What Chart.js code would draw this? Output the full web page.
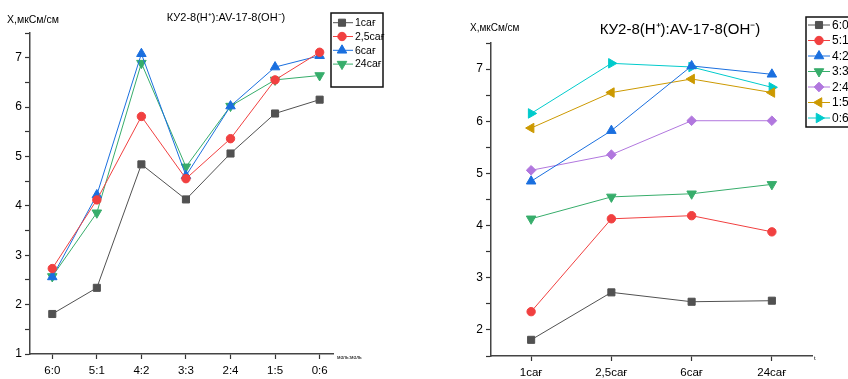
<!DOCTYPE html>
<html>
<head>
<meta charset="utf-8">
<script src="https://cdn.jsdelivr.net/npm/chart.js@4"></script>
<style>
  body { margin: 0; background: #fff; }
  #wrap { position: relative; width: 848px; height: 379px; overflow: hidden; font-family: 'Liberation Sans', Arial, sans-serif; }
  canvas { position: absolute; top: 0; }
  .txt { position: absolute; white-space: nowrap; color: #000; line-height: 1; }
</style>
</head>
<body>
<div id="wrap">
  <canvas id="leftChart" width="424" height="379" style="left:0"></canvas>
  <canvas id="rightChart" width="424" height="379" style="left:424px"></canvas>
  <div class="txt" style="left:226px;top:12px;font-size:11px;transform:translateX(-50%)">КУ2-8(H⁺):AV-17-8(OH⁻)</div>
  <div class="txt" style="left:7px;top:14px;font-size:10.5px">X,мкСм/см</div>
  <div class="txt" style="left:337px;top:355px;font-size:5px">моль:моль</div>
  <div class="txt" style="left:680px;top:21px;font-size:15px;transform:translateX(-50%)">КУ2-8(H⁺):AV-17-8(OH⁻)</div>
  <div class="txt" style="left:470px;top:23px;font-size:10px">X,мкСм/см</div>
  <div class="txt" style="left:814px;top:355px;font-size:6px">t</div>
</div>
<script>
const ratioLabels = ['6:0', '5:1', '4:2', '3:3', '2:4', '1:5', '0:6'];
const timeLabels = ['1сағ', '2,5сағ', '6сағ', '24сағ'];

// left chart: conductivity vs ratio, one line per time
const left1h = [1.81, 2.34, 4.84, 4.13, 5.06, 5.87, 6.15];
const left25h = [2.73, 4.12, 5.81, 4.55, 5.36, 6.55, 7.11];
const left6h = [2.56, 4.22, 7.08, 4.61, 6.02, 6.81, 7.04];
const left24h = [2.57, 3.86, 6.89, 4.79, 6.02, 6.55, 6.64];

// right chart: conductivity vs time, one line per ratio
const r60 = [1.81, 2.72, 2.54, 2.56];
const r51 = [2.35, 4.13, 4.19, 3.88];
const r42 = [4.85, 5.82, 7.06, 6.90];
const r33 = [4.13, 4.55, 4.61, 4.79];
const r24 = [5.06, 5.36, 6.01, 6.01];
const r15 = [5.87, 6.55, 6.81, 6.55];
const r06 = [6.15, 7.11, 7.04, 6.65];

const colors = ['#515151', '#F14040', '#1A6FDF', '#37AD6B', '#B177DE', '#CC9900', '#00CBCC'];
const styles = [
  { pointStyle: 'rect', pointRotation: 0, pointRadius: 5 },
  { pointStyle: 'circle', pointRotation: 0, pointRadius: 4.2 },
  { pointStyle: 'triangle', pointRotation: 0, pointRadius: 5.5 },
  { pointStyle: 'triangle', pointRotation: 180, pointRadius: 5.5 },
  { pointStyle: 'rectRot', pointRotation: 0, pointRadius: 4.8 },
  { pointStyle: 'triangle', pointRotation: 270, pointRadius: 5.5 },
  { pointStyle: 'triangle', pointRotation: 90, pointRadius: 5.5 }
];

function makeSet(label, data, i) {
  return Object.assign({
    label: label,
    data: data,
    borderColor: colors[i],
    backgroundColor: colors[i],
    pointBackgroundColor: colors[i],
    pointBorderColor: colors[i],
    pointBorderWidth: 1,
    borderWidth: 1,
    tension: 0
  }, styles[i]);
}

const boxLegend = {
  id: 'boxLegend',
  afterDraw(chart, args, o) {
    const ctx = chart.ctx;
    ctx.save();
    ctx.lineWidth = 1.5;
    ctx.strokeStyle = '#111';
    ctx.strokeRect(o.x, o.y, o.w, o.h);
    chart.data.datasets.forEach((ds, i) => {
      const cy = o.y + o.first + i * o.step;
      ctx.strokeStyle = ds.borderColor;
      ctx.lineWidth = 1;
      ctx.beginPath();
      ctx.moveTo(o.x + 2, cy);
      ctx.lineTo(o.x + o.lineW, cy);
      ctx.stroke();
      ctx.fillStyle = ds.pointBackgroundColor;
      ctx.strokeStyle = ds.pointBorderColor;
      Chart.helpers.drawPoint(ctx, {
        pointStyle: ds.pointStyle, rotation: ds.pointRotation, radius: ds.pointRadius, borderWidth: 1
      }, o.x + o.markX, cy);
      ctx.fillStyle = '#000';
      ctx.font = o.font + "px 'Liberation Sans', Arial, sans-serif";
      ctx.textBaseline = 'middle';
      ctx.fillText(ds.label, o.x + o.textX, cy + 0.5);
    });
    ctx.restore();
  }
};

const xFont = { family: "'Liberation Sans', Arial, sans-serif", size: 11.5 };
const yFont = { family: "'Liberation Sans', Arial, sans-serif", size: 12 };
const axisBorder = { display: true, color: '#444', width: 1.5 };
const gridOpts = { display: true, drawOnChartArea: false, drawTicks: true, tickLength: 5, color: '#333', tickColor: '#333', tickWidth: 1.2 };

new Chart(document.getElementById('leftChart'), {
  type: 'line',
  data: {
    datasets: [
      makeSet('1сағ', left1h.map((v, i) => ({ x: i, y: v })), 0),
      makeSet('2,5сағ', left25h.map((v, i) => ({ x: i, y: v })), 1),
      makeSet('6сағ', left6h.map((v, i) => ({ x: i, y: v })), 2),
      makeSet('24сағ', left24h.map((v, i) => ({ x: i, y: v })), 3)
    ]
  },
  options: {
    responsive: false,
    animation: false,
    layout: { padding: { left: 0, right: 91, top: 33, bottom: 0 } },
    plugins: {
      legend: { display: false },
      tooltip: { enabled: false },
      boxLegend: { x: 331, y: 13, w: 52, h: 74, first: 9.7, step: 13.8, lineW: 22, markX: 11, textX: 24, font: 10.5 }
    },
    scales: {
      x: {
        type: 'linear', min: -0.5, max: 6.3,
        afterBuildTicks: s => { s.ticks = ratioLabels.map((_, i) => ({ value: i })); },
        afterFit: s => { s.height = 25; },
        ticks: { font: xFont, color: '#000', padding: 5, maxRotation: 0, callback: v => ratioLabels[v] },
        grid: gridOpts, border: axisBorder
      },
      y: {
        min: 1, max: 7.5,
        afterBuildTicks: s => { const t = []; for (let v = 1; v <= 7.5; v += 0.5) t.push({ value: v }); s.ticks = t; },
        afterFit: s => { s.width = 30; },
        ticks: { font: yFont, color: '#000', padding: 3, callback: v => Number.isInteger(v) ? v : '' },
        grid: gridOpts, border: axisBorder
      }
    }
  },
  plugins: [boxLegend]
});

new Chart(document.getElementById('rightChart'), {
  type: 'line',
  data: {
    labels: timeLabels,
    datasets: [
      makeSet('6:0', r60, 0),
      makeSet('5:1', r51, 1),
      makeSet('4:2', r42, 2),
      makeSet('3:3', r33, 3),
      makeSet('2:4', r24, 4),
      makeSet('1:5', r15, 5),
      makeSet('0:6', r06, 6)
    ]
  },
  options: {
    responsive: false,
    animation: false,
    layout: { padding: { left: 0, right: 36, top: 43, bottom: 0 } },
    plugins: {
      legend: { display: false },
      tooltip: { enabled: false },
      boxLegend: { x: 382, y: 17, w: 80, h: 110, first: 8, step: 15.5, lineW: 24, markX: 13, textX: 26, font: 12 }
    },
    scales: {
      x: {
        type: 'category', offset: true,
        afterFit: s => { s.height = 23; },
        ticks: { font: xFont, color: '#000', padding: 5, maxRotation: 0 },
        grid: Object.assign({}, gridOpts, { offset: false }), border: axisBorder
      },
      y: {
        min: 1.5, max: 7.5,
        afterBuildTicks: s => { const t = []; for (let v = 1.5; v <= 7.5; v += 0.5) t.push({ value: v }); s.ticks = t; },
        afterFit: s => { s.width = 67; },
        ticks: { font: yFont, color: '#000', padding: 3, callback: v => Number.isInteger(v) ? v : '' },
        grid: gridOpts, border: axisBorder
      }
    }
  },
  plugins: [boxLegend]
});
</script>
</body>
</html>
